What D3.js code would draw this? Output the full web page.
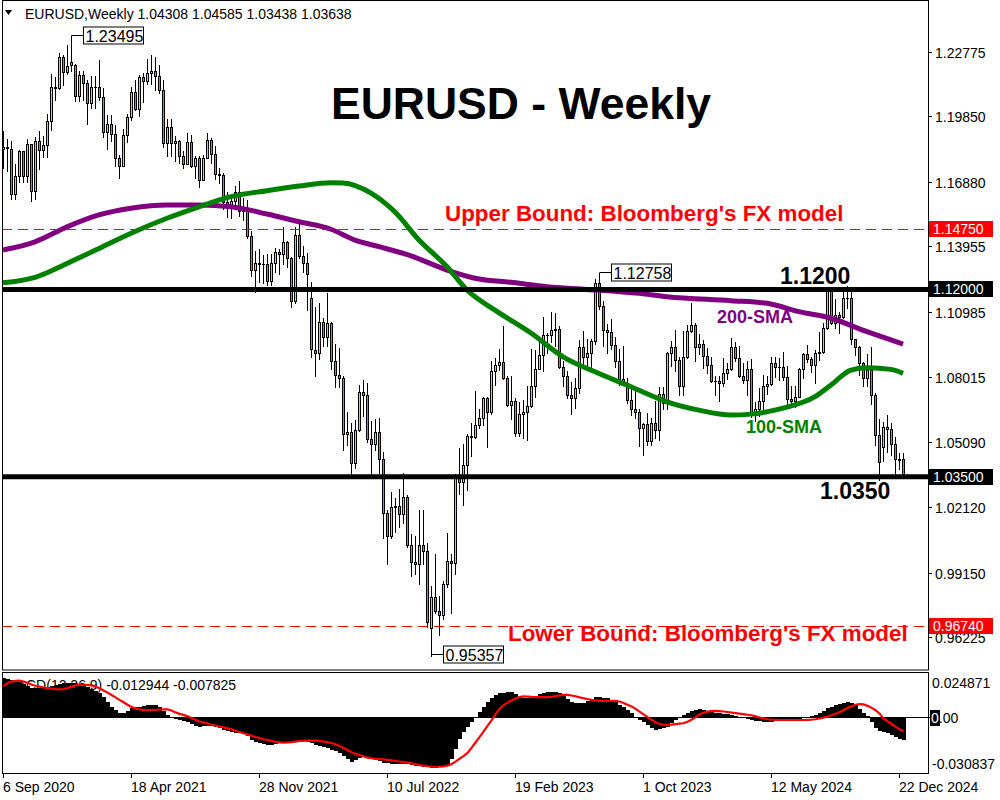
<!DOCTYPE html>
<html><head><meta charset="utf-8">
<script src="https://cdn.jsdelivr.net/npm/d3@7"></script>
<style>body{margin:0;background:#fff}svg{display:block}text{font-family:"Liberation Sans",Arial,sans-serif}</style>
</head><body>
<svg id="c" width="1000" height="800"></svg>
<script>
// ---- DATA (weekly candles from 6 Sep 2020 to 29 Dec 2024) ----
const opens = [
1.1838,1.1845,1.1838,1.1632,1.1715,1.1826,1.1716,1.1859,1.1647,1.1875,
1.1833,1.1856,1.1963,1.2120,1.2113,1.2255,1.2185,1.2232,1.2220,1.2077,
1.2171,1.2136,1.2046,1.2118,1.2118,1.2075,1.1915,1.1951,1.1906,1.1795,
1.1762,1.1900,1.1984,1.2096,1.2020,1.2164,1.2146,1.2180,1.2193,1.2167,
1.2106,1.1864,1.1937,1.1866,1.1875,1.1807,1.1771,1.1869,1.1761,1.1796,
1.1697,1.1795,1.1880,1.1813,1.1726,1.1720,1.1596,1.1573,1.1602,1.1643,
1.1557,1.1568,1.1444,1.1287,1.1318,1.1317,1.1316,1.1240,1.1322,1.1370,
1.1359,1.1413,1.1344,1.1146,1.1448,1.1350,1.1322,1.1160,1.0925,1.0911,
1.1051,1.0983,1.1049,1.0877,1.0810,1.0797,1.0545,1.0552,1.0413,1.0562,
1.0733,1.0720,1.0519,1.0497,1.0554,1.0429,1.0183,1.0081,1.0213,1.0219,
1.0181,1.0260,1.0038,0.9965,0.9954,1.0040,1.0014,0.9665,0.9802,0.9739,
0.9723,0.9861,0.9966,0.9958,1.0353,1.0325,1.0401,1.0535,1.0531,1.0585,
1.0616,1.0705,1.0645,1.0830,1.0855,1.0870,1.0796,1.0677,1.0694,1.0547,
1.0633,1.0642,1.0670,1.0760,1.0839,1.0902,1.0992,1.0991,1.1017,1.1019,
1.0849,1.0805,1.0721,1.0709,1.0751,1.0939,1.0893,1.0910,1.0968,1.1228,
1.1125,1.1016,1.1008,1.0948,1.0873,1.0795,1.0773,1.0700,1.0657,1.0645,
1.0573,1.0587,1.0511,1.0593,1.0564,1.0727,1.0684,1.0912,1.0940,1.0878,
1.0763,1.0895,1.1013,1.1039,1.0940,1.0951,1.0896,1.0855,1.0786,1.0785,
1.0777,1.0821,1.0839,1.0938,1.0889,1.0808,1.0790,1.0837,1.0642,1.0656,
1.0693,1.0761,1.0771,1.0868,1.0847,1.0848,1.0801,1.0702,1.0692,1.0713,
1.0840,1.0907,1.0883,1.0856,1.0910,1.0917,1.1027,1.1193,1.1048,1.1082,
1.1075,1.1163,1.1163,1.0974,1.0937,1.0867,1.0798,1.0835,1.0719,1.0541,
1.0485,1.0577,1.0567,1.0500,1.0430,1.04308];
const highs = [
1.1917,1.1883,1.1873,1.1771,1.1831,1.1830,1.1881,1.1860,1.1891,1.1920,
1.1894,1.1997,1.2177,1.2163,1.2273,1.2262,1.2310,1.23495,1.2223,1.2190,
1.2190,1.2150,1.2170,1.2169,1.2243,1.2113,1.1990,1.1990,1.1944,1.1808,
1.1928,1.1994,1.2117,1.2150,1.2172,1.2183,1.2245,1.2266,1.2254,1.2218,
1.2150,1.1975,1.1975,1.1895,1.1880,1.1830,1.1909,1.1900,1.1806,1.1805,
1.1810,1.1909,1.1885,1.1849,1.1752,1.1727,1.1640,1.1624,1.1669,1.1692,
1.1616,1.1608,1.1464,1.1374,1.1383,1.1355,1.1360,1.1360,1.1386,1.1385,
1.1483,1.1418,1.1349,1.1484,1.1495,1.1395,1.1367,1.1233,1.1121,1.1137,
1.1070,1.1185,1.1054,1.0954,1.0936,1.0805,1.0642,1.0592,1.0607,1.0765,
1.0787,1.0774,1.0601,1.0614,1.0615,1.0463,1.0200,1.0279,1.0254,1.0294,
1.0369,1.0268,1.0090,1.0079,1.0198,1.0197,1.0051,0.9852,0.9999,0.9809,
0.9876,1.0094,1.0000,1.0364,1.0481,1.0497,1.0545,1.0595,1.0737,1.0658,
1.0713,1.0713,1.0875,1.0887,1.0929,1.1033,1.0805,1.0805,1.0706,1.0691,
1.0697,1.0760,1.0930,1.0925,1.0973,1.1075,1.1000,1.1096,1.1092,1.1034,
1.0875,1.0830,1.0780,1.0800,1.0971,1.1012,1.0976,1.0975,1.1245,1.12758,
1.1149,1.1045,1.1065,1.0986,1.0930,1.0945,1.0800,1.0768,1.0737,1.0657,
1.0594,1.0640,1.0617,1.0695,1.0755,1.0756,1.0915,1.0965,1.1017,1.0895,
1.1009,1.1040,1.1140,1.1046,1.0998,1.0969,1.0932,1.0895,1.0806,1.0805,
1.0888,1.0865,1.0981,1.0963,1.0942,1.0865,1.0876,1.0885,1.0690,1.0752,
1.0812,1.0805,1.0895,1.0895,1.0889,1.0916,1.0853,1.0761,1.0762,1.0844,
1.0910,1.0948,1.0893,1.0926,1.1008,1.1048,1.1202,1.1200,1.1155,1.1099,
1.1189,1.1214,1.1210,1.0976,1.0945,1.0872,1.0905,1.0937,1.0728,1.0610,
1.0597,1.0630,1.0595,1.0530,1.0456,1.04585];
const lows = [
1.1753,1.1737,1.1612,1.1612,1.1686,1.1689,1.1689,1.1603,1.1612,1.1745,
1.1801,1.1799,1.1923,1.2059,1.2111,1.2129,1.2178,1.2193,1.2054,1.2054,
1.2060,1.1952,1.2023,1.2023,1.2060,1.1893,1.1835,1.1874,1.1762,1.1704,
1.1761,1.1868,1.1970,1.2016,1.1986,1.2052,1.2132,1.2133,1.2104,1.2093,
1.1847,1.1804,1.1807,1.1782,1.1772,1.1752,1.1770,1.1755,1.1706,1.1664,
1.1695,1.1795,1.1775,1.1700,1.1684,1.1563,1.1529,1.1523,1.1571,1.1535,
1.1513,1.1432,1.1263,1.1186,1.1235,1.1227,1.1222,1.1222,1.1279,1.1272,
1.1314,1.1302,1.1121,1.1140,1.1343,1.1280,1.1106,1.0895,1.0806,1.0885,
1.0945,1.0945,1.0837,1.0757,1.0759,1.0471,1.0493,1.0350,1.0389,1.0558,
1.0627,1.0507,1.0359,1.0470,1.0366,1.0072,0.9952,1.0071,1.0098,1.0123,
1.0141,1.0033,0.9900,0.9910,0.9864,0.9956,0.9669,0.95357,0.9730,0.9632,
0.9705,0.9850,0.9730,0.9908,1.0271,1.0223,1.0290,1.0443,1.0525,1.0573,
1.0583,1.0483,1.0636,1.0766,1.0835,1.0794,1.0669,1.0613,1.0533,1.0533,
1.0524,1.0516,1.0665,1.0713,1.0837,1.0831,1.0910,1.0961,1.0942,1.0845,
1.0760,1.0707,1.0635,1.0662,1.0730,1.0844,1.0834,1.0835,1.0950,1.1110,
1.0944,1.0912,1.0929,1.0846,1.0766,1.0772,1.0685,1.0631,1.0616,1.0488,
1.0448,1.0495,1.0496,1.0524,1.0516,1.0655,1.0657,1.0852,1.0829,1.0723,
1.0723,1.0888,1.1005,1.0877,1.0908,1.0844,1.0821,1.0780,1.0722,1.0695,
1.0760,1.0795,1.0834,1.0873,1.0802,1.0776,1.0723,1.0622,1.0601,1.0624,
1.0650,1.0724,1.0766,1.0804,1.0788,1.0791,1.0668,1.0671,1.0666,1.0710,
1.0798,1.0869,1.0825,1.0777,1.0880,1.0910,1.1020,1.1045,1.1026,1.1001,
1.1069,1.1115,1.0950,1.0902,1.0811,1.0761,1.0761,1.0682,1.0496,1.0333,
1.0423,1.0460,1.0450,1.0344,1.0384,1.03438];
const closes = [
1.1845,1.1843,1.1632,1.1715,1.1826,1.1716,1.1859,1.1647,1.1875,1.1833,
1.1856,1.1963,1.2120,1.2113,1.2255,1.2185,1.2215,1.2220,1.2077,1.2171,
1.2136,1.2046,1.2118,1.2118,1.2075,1.1915,1.1951,1.1906,1.1795,1.1762,
1.1900,1.1984,1.2096,1.2020,1.2164,1.2146,1.2180,1.2193,1.2167,1.2106,
1.1864,1.1937,1.1866,1.1875,1.1807,1.1771,1.1869,1.1761,1.1796,1.1697,
1.1795,1.1880,1.1813,1.1726,1.1720,1.1596,1.1573,1.1602,1.1643,1.1557,
1.1568,1.1444,1.1287,1.1318,1.1317,1.1316,1.1240,1.1322,1.1370,1.1359,
1.1413,1.1344,1.1146,1.1448,1.1350,1.1322,1.1269,1.0929,1.0911,1.1051,
1.0983,1.1049,1.0877,1.0810,1.0797,1.0545,1.0552,1.0413,1.0562,1.0733,
1.0720,1.0519,1.0497,1.0554,1.0429,1.0183,1.0081,1.0213,1.0219,1.0181,
1.0260,1.0038,0.9965,0.9954,1.0040,1.0014,0.9690,0.9802,0.9739,0.9723,
0.9861,0.9966,0.9958,1.0353,1.0325,1.0401,1.0535,1.0531,1.0585,1.0616,
1.0705,1.0645,1.0830,1.0855,1.0870,1.0796,1.0677,1.0694,1.0547,1.0633,
1.0642,1.0670,1.0760,1.0839,1.0902,1.0992,1.0991,1.1017,1.1019,1.0849,
1.0805,1.0721,1.0709,1.0751,1.0939,1.0893,1.0910,1.0968,1.1228,1.1125,
1.1016,1.1008,1.0948,1.0873,1.0795,1.0773,1.0700,1.0657,1.0645,1.0573,
1.0587,1.0511,1.0593,1.0564,1.0727,1.0684,1.0912,1.0940,1.0878,1.0763,
1.0895,1.1013,1.1039,1.0940,1.0951,1.0896,1.0855,1.0786,1.0785,1.0777,
1.0821,1.0839,1.0938,1.0889,1.0808,1.0790,1.0837,1.0642,1.0656,1.0693,
1.0761,1.0771,1.0868,1.0847,1.0848,1.0801,1.0702,1.0692,1.0713,1.0840,
1.0907,1.0883,1.0856,1.0910,1.0917,1.1027,1.1193,1.1048,1.1082,1.1075,
1.1163,1.1163,1.0974,1.0937,1.0867,1.0798,1.0835,1.0719,1.0541,1.0418,
1.0577,1.0567,1.0500,1.0430,1.0427,1.03638];

// moving averages (bar index, price)
const sma200Idx = [0,8,16,24,32,41,49,57,66,74,82,88,94,102,111,119,127,136,146,159,166,182,191,199,207,216,225];
const sma200Val = [1.1379,1.1416,1.1484,1.1538,1.1568,1.1583,1.1583,1.1575,1.1542,1.1507,1.1473,1.1424,1.1394,1.1352,1.1288,1.1247,1.1232,1.1212,1.1200,1.1182,1.1167,1.1149,1.1137,1.1099,1.1069,1.1008,1.0952];
const sma100Idx = [0,8,16,24,32,41,49,57,66,74,82,85,92,98,104,111,116,123,132,140,148,157,166,174,182,187,195,203,207,212,216,222,225];
const sma100Val = [1.1230,1.1255,1.1318,1.1386,1.1455,1.1523,1.1575,1.1621,1.1648,1.1669,1.1684,1.1683,1.1637,1.1551,1.1424,1.1303,1.1197,1.1106,1.1002,1.0894,1.0826,1.0758,1.0690,1.0652,1.0630,1.0634,1.0661,1.0713,1.0766,1.0834,1.0844,1.0837,1.0819];

// MACD(12,26,9) main (histogram) and signal, one value per bar
const macdMain = [
.0216,.0210,.0205,.0200,.0194,.0185,.0173,.0161,.0158,.0158,
.0160,.0165,.0170,.0178,.0183,.0186,.0188,.0189,.0186,.0180,
.0172,.0164,.0155,.0145,.0133,.0110,.0085,.0055,.0040,.0023,
.0025,.0035,.0050,.0054,.0058,.0062,.0065,.0067,.0065,.0058,
.0035,.0012,.0000,-.0010,-.0016,-.0023,-.0030,-.0040,-.0048,-.0055,
-.0052,-.0050,-.0052,-.0055,-.0062,-.0070,-.0076,-.0082,-.0086,-.0090,
-.0096,-.0105,-.0126,-.0136,-.0145,-.0150,-.0154,-.0153,-.0150,-.0146,
-.0143,-.0142,-.0140,-.0135,-.0132,-.0134,-.0138,-.0146,-.0154,-.0160,
-.0165,-.0173,-.0181,-.0190,-.0200,-.0215,-.0230,-.0246,-.0235,-.0226,
-.0222,-.0218,-.0226,-.0235,-.0244,-.0253,-.0256,-.0258,-.0258,-.0259,
-.0259,-.0260,-.0265,-.0270,-.0272,-.0275,-.0278,-.0281,-.0280,-.0278,
-.0275,-.0263,-.0230,-.0175,-.0120,-.0085,-.0055,-.0025,-.0005,.0030,
.0058,.0082,.0104,.0120,.0131,.0135,.0138,.0138,.0125,.0111,
.0108,.0105,.0105,.0115,.0125,.0132,.0136,.0138,.0136,.0133,
.0115,.0098,.0083,.0080,.0079,.0078,.0090,.0100,.0111,.0110,
.0108,.0105,.0095,.0083,.0068,.0053,.0039,.0020,.0000,-.0015,
-.0030,-.0044,-.0058,-.0071,-.0068,-.0062,-.0055,-.0035,-.0016,.0000,
.0012,.0023,.0032,.0040,.0045,.0040,.0034,.0028,.0025,.0022,
.0018,.0015,.0012,.0008,.0002,-.0005,-.0010,-.0016,-.0020,-.0023,
-.0025,-.0027,-.0026,-.0023,-.0020,-.0016,-.0014,-.0012,-.0011,-.0010,
-.0005,.0000,.0005,.0012,.0023,.0035,.0048,.0056,.0064,.0072,
.0078,.0083,.0075,.0067,.0045,.0022,.0005,-.0025,-.0060,-.0075,
-.0083,-.0088,-.0098,-.0110,-.0120,-.012944];
const macdSignal = [
.0170,.0188,.0196,.0200,.0201,.0196,.0188,.0180,.0173,.0168,
.0163,.0160,.0157,.0154,.0153,.0155,.0160,.0168,.0175,.0177,
.0178,.0177,.0175,.0168,.0159,.0147,.0135,.0122,.0109,.0095,
.0082,.0068,.0056,.0048,.0043,.0040,.0039,.0039,.0040,.0042,
.0043,.0043,.0036,.0026,.0018,.0012,.0004,-.0005,-.0015,-.0024,
-.0030,-.0036,-.0042,-.0047,-.0052,-.0057,-.0062,-.0068,-.0075,-.0082,
-.0089,-.0096,-.0102,-.0110,-.0116,-.0122,-.0126,-.0131,-.0136,-.0139,
-.0141,-.0140,-.0138,-.0135,-.0132,-.0131,-.0130,-.0130,-.0130,-.0132,
-.0135,-.0138,-.0143,-.0150,-.0160,-.0170,-.0182,-.0194,-.0203,-.0210,
-.0216,-.0224,-.0227,-.0230,-.0232,-.0233,-.0236,-.0239,-.0242,-.0245,
-.0248,-.0251,-.0255,-.0260,-.0265,-.0268,-.0271,-.0273,-.0274,-.0274,
-.0272,-.0268,-.0260,-.0246,-.0230,-.0215,-.0198,-.0170,-.0140,-.0110,
-.0080,-.0048,-.0018,.0015,.0045,.0065,.0080,.0092,.0102,.0111,
.0114,.0113,.0111,.0110,.0110,.0110,.0110,.0112,.0116,.0120,
.0122,.0122,.0119,.0115,.0109,.0104,.0099,.0095,.0092,.0090,
.0090,.0090,.0090,.0090,.0086,.0078,.0068,.0059,.0045,.0030,
.0015,.0000,-.0015,-.0028,-.0038,-.0043,-.0044,-.0042,-.0039,-.0036,
-.0034,-.0026,-.0015,-.0002,.0015,.0024,.0030,.0033,.0034,.0033,
.0031,.0028,.0025,.0022,.0019,.0016,.0013,.0010,.0004,-.0002,
-.0007,-.0012,-.0014,-.0015,-.0016,-.0016,-.0016,-.0016,-.0016,-.0016,
-.0016,-.0015,-.0014,-.0012,-.0008,-.0003,.0003,.0010,.0018,.0027,
.0038,.0050,.0060,.0068,.0072,.0070,.0062,.0052,.0038,.0020,
-.0007,-.0023,-.0038,-.0053,-.0067,-.007825];

const priceTicks = [1.22775,1.19850,1.16880,1.13955,1.10985,1.08015,1.05090,1.02120,0.99150,0.96225];
const dateTicks = ["6 Sep 2020","18 Apr 2021","28 Nov 2021","10 Jul 2022","19 Feb 2023","1 Oct 2023","12 May 2024","22 Dec 2024"];
const keyLevels = [1.1200, 1.0350];           // thick black lines
const keyLevelText = ["1.1200", "1.0350"];
const boundLevels = [1.1475, 0.9674];         // red dashed lines
const boundText = ["Upper Bound: Bloomberg's FX model", "Lower Bound: Bloomberg's FX model"];
const macdScale = [-0.030837, 0.024871];
const headerText = "EURUSD,Weekly  1.04308 1.04585 1.03438 1.03638";

// ---- CHART ----
const svg = d3.select('#c');
const L = 2, R = 928, T = 0, B = 670, MT = 672, MB = 773;
const weeks = d3.timeWeek.range(new Date(2020, 8, 6), new Date(2025, 0, 5));
const x = d3.scaleTime().domain([weeks[0], weeks[weeks.length - 1]]).range([3, 903]);
const xc = i => Math.round(x(weeks[i]));
const y = d3.scaleLinear().domain([0.94727, 1.24953]).range([B, 4]);
const ym = d3.scaleLinear().domain(macdScale).range([MB, MT]);

svg.append('rect').attr('width', 1000).attr('height', 800).attr('fill', '#fff');
const defs = svg.append('defs');
defs.append('clipPath').attr('id', 'cm').append('rect').attr('x', L).attr('y', T).attr('width', R - L).attr('height', B - T);
defs.append('clipPath').attr('id', 'cd').append('rect').attr('x', L).attr('y', MT).attr('width', R - L).attr('height', MB - MT);

const main = svg.append('g').attr('clip-path', 'url(#cm)');
const BULL = '#c6d94e', BEAR = '#e8703a';

// candles
const cg = main.append('g').attr('shape-rendering', 'crispEdges');
opens.forEach((o, i) => {
  const c = xc(i), cl = closes[i];
  cg.append('line').attr('x1', c + .5).attr('x2', c + .5)
    .attr('y1', Math.round(y(highs[i]))).attr('y2', Math.round(y(lows[i])) + 1)
    .attr('stroke', '#000').attr('stroke-width', 1);
  const t = Math.round(y(Math.max(o, cl))), b = Math.round(y(Math.min(o, cl)));
  if (b - t < 1) {
    cg.append('line').attr('x1', c - 1).attr('x2', c + 2).attr('y1', t + .5).attr('y2', t + .5).attr('stroke', '#000');
  } else {
    cg.append('rect').attr('x', c - .5).attr('y', t + .5).attr('width', 2).attr('height', b - t)
      .attr('fill', cl >= o ? BULL : BEAR).attr('stroke', '#000').attr('stroke-width', 1);
  }
});

// moving averages
const smaLine = d3.line().x(d => x(weeks[d[0]])).y(d => y(d[1])).curve(d3.curveMonotoneX);
main.append('path').attr('d', smaLine(sma200Idx.map((v, k) => [v, sma200Val[k]])))
  .attr('fill', 'none').attr('stroke', '#800080').attr('stroke-width', 5);
main.append('path').attr('d', smaLine(sma100Idx.map((v, k) => [v, sma100Val[k]])))
  .attr('fill', 'none').attr('stroke', '#008000').attr('stroke-width', 5);

// red dashed bounds
boundLevels.forEach(v => {
  const yy = Math.round(y(v)) + .5;
  svg.append('line').attr('x1', L).attr('x2', R).attr('y1', yy).attr('y2', yy)
    .attr('stroke', '#ff0000').attr('stroke-width', 1).attr('stroke-dasharray', '10,6');
});
// thick key levels
keyLevels.forEach(v => {
  const yy = y(v);
  svg.append('line').attr('x1', L).attr('x2', R + 2).attr('y1', yy).attr('y2', yy)
    .attr('stroke', '#000').attr('stroke-width', 5);
});

// frames
svg.append('rect').attr('x', L + .5).attr('y', T + .5).attr('width', R - L).attr('height', B - T - .5)
  .attr('fill', 'none').attr('stroke', '#000');
svg.append('rect').attr('x', L + .5).attr('y', MT + .5).attr('width', R - L).attr('height', MB - MT)
  .attr('fill', 'none').attr('stroke', '#000');

// header
svg.append('path').attr('d', 'M5,10 L12,10 L8.5,15 Z').attr('fill', '#000');
svg.append('text').attr('x', 25).attr('y', 19).attr('font-size', 14).attr('fill', '#000').text(headerText);

// title
svg.append('text').attr('x', 521).attr('y', 119).attr('text-anchor', 'middle')
  .attr('font-size', 44.5).attr('font-weight', 'bold').attr('fill', '#000').text('EURUSD - Weekly');

// right price axis
priceTicks.forEach(p => {
  const yy = Math.round(y(p)) + .5;
  svg.append('line').attr('x1', R).attr('x2', R + 4).attr('y1', yy).attr('y2', yy).attr('stroke', '#000');
  svg.append('text').attr('x', 935).attr('y', yy + 5).attr('font-size', 14).attr('fill', '#000').text(p.toFixed(5));
});
// level label boxes
const boxLab = (v, bg) => {
  const yy = y(v);
  svg.append('rect').attr('x', R + 1).attr('y', Math.round(yy) - 8).attr('width', 64).attr('height', 16).attr('fill', bg);
  svg.append('text').attr('x', 933).attr('y', Math.round(yy) + 5).attr('font-size', 14).attr('fill', '#fff').text(v.toFixed(5));
};
boundLevels.forEach(v => boxLab(v, '#ff0000'));
keyLevels.forEach(v => boxLab(v, '#000'));

// level annotations
svg.append('text').attr('x', 445).attr('y', y(boundLevels[0]) - 8).attr('font-size', 22.4).attr('font-weight', 'bold').attr('fill', '#ff0000').text(boundText[0]);
svg.append('text').attr('x', 508).attr('y', y(boundLevels[1]) + 15.5).attr('font-size', 22.4).attr('font-weight', 'bold').attr('fill', '#ff0000').text(boundText[1]);
svg.append('text').attr('x', 780).attr('y', y(keyLevels[0]) - 5.5).attr('font-size', 23).attr('font-weight', 'bold').attr('fill', '#000').text(keyLevelText[0]);
svg.append('text').attr('x', 820).attr('y', y(keyLevels[1]) + 22).attr('font-size', 23).attr('font-weight', 'bold').attr('fill', '#000').text(keyLevelText[1]);
svg.append('text').attr('x', 717).attr('y', 323).attr('font-size', 18).attr('font-weight', 'bold').attr('fill', '#800080').text('200-SMA');
svg.append('text').attr('x', 746).attr('y', 433).attr('font-size', 18).attr('font-weight', 'bold').attr('fill', '#008000').text('100-SMA');

// callouts for extremes
const callout = (i, v, dy) => {
  const c = xc(i) + .5, yv = y(v), ym2 = Math.round(yv + dy) + .5, bx = Math.round(c + 11) + .5;
  svg.append('path').attr('d', `M${c},${yv}V${ym2}H${bx}`).attr('fill', 'none').attr('stroke', '#000');
  svg.append('rect').attr('x', bx).attr('y', ym2 - 8.5).attr('width', 60).attr('height', 17).attr('fill', '#fff').attr('stroke', '#000');
  svg.append('text').attr('x', bx + 2).attr('y', ym2 + 6).attr('font-size', 16).attr('fill', '#000').text(v.toFixed(5));
};
const hiIdx = highs.indexOf(d3.max(highs.slice(0, 60)));
const loIdx = lows.indexOf(d3.min(lows));
const hi2Idx = highs.indexOf(d3.max(highs.slice(120, 200)));
callout(hiIdx, highs[hiIdx], -1);
callout(hi2Idx, highs[hi2Idx], -1);
callout(loIdx, lows[loIdx], -2);

// MACD panel
const md = svg.append('g').attr('clip-path', 'url(#cd)');
md.append('text').attr('x', 5).attr('y', 690).attr('font-size', 14).attr('fill', '#000')
  .text(`MACD(12,26,9) ${macdMain[macdMain.length - 1].toFixed(6)} ${macdSignal[macdSignal.length - 1].toFixed(6)}`);
const y0 = ym(0);
const hg = md.append('g').attr('shape-rendering', 'crispEdges');
macdMain.forEach((v, i) => {
  const c = xc(i), yv = ym(v);
  hg.append('rect').attr('x', c - 1).attr('width', 4).attr('y', Math.round(Math.min(yv, y0))).attr('height', Math.max(1, Math.round(Math.abs(yv - y0)))).attr('fill', '#000');
});
md.append('line').attr('x1', L).attr('x2', R).attr('y1', Math.round(y0) + .5).attr('y2', Math.round(y0) + .5).attr('stroke', '#000');
md.append('path').attr('d', d3.line().x((d, i) => xc(i) + .5).y(d => ym(d))(macdSignal))
  .attr('fill', 'none').attr('stroke', '#ff0000').attr('stroke-width', 2.2);
svg.append('line').attr('x1', R).attr('x2', R + 3).attr('y1', Math.round(y0) + .5).attr('y2', Math.round(y0) + .5).attr('stroke', '#000');

// MACD axis labels
svg.append('text').attr('x', 932).attr('y', ym(macdScale[1]) + 16).attr('font-size', 14).attr('fill', '#000').text(macdScale[1].toFixed(6));
svg.append('text').attr('x', 932).attr('y', ym(macdScale[0]) - 4).attr('font-size', 14).attr('fill', '#000').text(macdScale[0].toFixed(6));
svg.append('rect').attr('x', 930).attr('y', Math.round(y0) - 7).attr('width', 10).attr('height', 16).attr('fill', '#000');
const zt = svg.append('text').attr('x', 931).attr('y', Math.round(y0) + 6).attr('font-size', 14);
zt.append('tspan').attr('fill', '#fff').text('0');
zt.append('tspan').attr('fill', '#000').text('.00');

// bottom date axis
const parse = d3.timeParse('%d %b %Y');
dateTicks.forEach(s => {
  const d = parse(s);
  const xx = Math.round(x(d));
  svg.append('line').attr('x1', xx + .5).attr('x2', xx + .5).attr('y1', MB).attr('y2', MB + 5).attr('stroke', '#000');
  svg.append('text').attr('x', xx).attr('y', 792).attr('font-size', 14).attr('fill', '#000').text(s);
});
</script>
</body></html>
